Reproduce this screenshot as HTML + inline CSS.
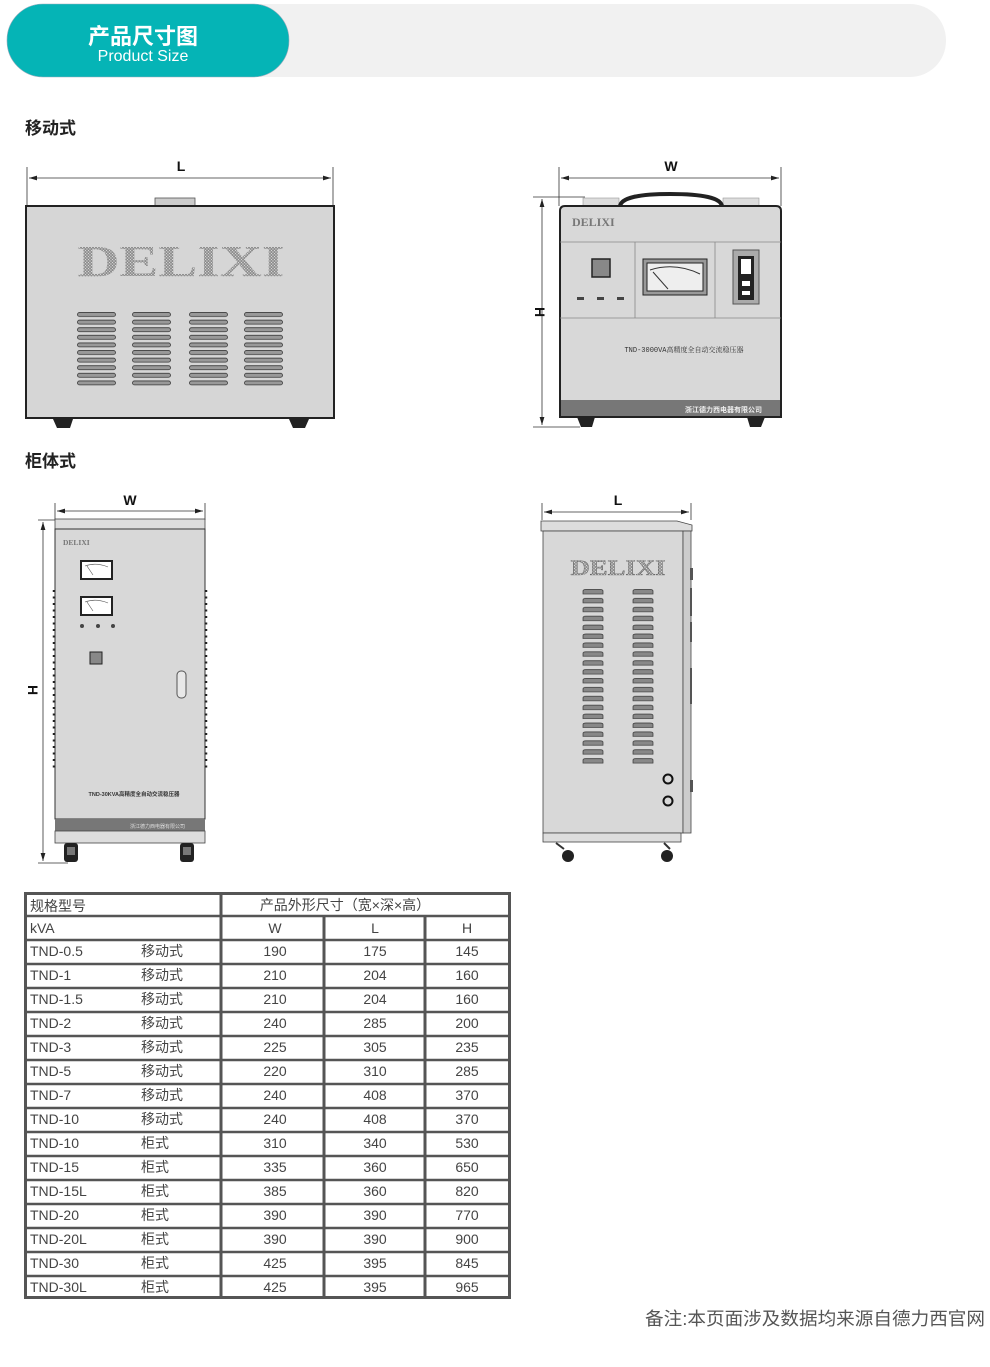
<!DOCTYPE html>
<html><head><meta charset="utf-8"><style>
body{margin:0;background:#fff;width:990px;height:1367px;overflow:hidden;font-family:"Liberation Sans","Noto Sans CJK SC",sans-serif}
svg{position:absolute;left:0;top:0}
</style></head><body>
<svg width="990" height="1367" viewBox="0 0 990 1367" font-family="Liberation Sans, Noto Sans CJK SC, sans-serif">
<defs>
<pattern id="dots" width="3" height="3" patternUnits="userSpaceOnUse"><circle cx="1.5" cy="1.5" r="1.1" fill="none" stroke="#666" stroke-width="0.6"/></pattern>
<pattern id="vent1" x="0" y="312" width="1000" height="7.6" patternUnits="userSpaceOnUse"><rect x="0.5" y="0.5" width="38" height="4" rx="2" fill="#999" stroke="#333" stroke-width="0.8"/></pattern>
<pattern id="vent2" x="0" y="589" width="1000" height="8.9" patternUnits="userSpaceOnUse"><path d="M1 5 L1 2 Q1 0.5 4 0.5 L18 0.5 Q21 0.5 21 2 L21 5 Z" fill="#888" stroke="#333" stroke-width="0.7"/></pattern>
<marker id="ar" viewBox="0 0 10 6" refX="10" refY="3" markerWidth="10" markerHeight="6" orient="auto-start-reverse"><path d="M0 0 L10 3 L0 6 Z" fill="#222"/></marker>
</defs>

<rect x="8" y="4" width="938" height="73" rx="36" fill="#f1f1f1"/>
<rect x="7" y="4" width="282" height="73" rx="36" fill="#05b4b6" stroke="#9ab" stroke-width="0.6"/>
<text x="143" y="44" text-anchor="middle" fill="#fff" font-size="22" font-weight="bold">产品尺寸图</text>
<text x="143" y="61" text-anchor="middle" fill="#fff" font-size="16">Product Size</text>

<text x="25" y="134" font-size="17" font-weight="bold" fill="#222">移动式</text>
<text x="25" y="467" font-size="17" font-weight="bold" fill="#222">柜体式</text>

<g stroke="#333" stroke-width="0.8" fill="none">
<line x1="27" y1="167" x2="27" y2="206"/><line x1="333" y1="167" x2="333" y2="206"/>
<line x1="29" y1="178" x2="331" y2="178" marker-start="url(#ar)" marker-end="url(#ar)"/>
<line x1="559" y1="167" x2="559" y2="206"/><line x1="781" y1="167" x2="781" y2="206"/>
<line x1="561" y1="178" x2="779" y2="178" marker-start="url(#ar)" marker-end="url(#ar)"/>
<line x1="533" y1="197" x2="585" y2="197"/><line x1="533" y1="427" x2="580" y2="427"/>
<line x1="542" y1="199" x2="542" y2="425" marker-start="url(#ar)" marker-end="url(#ar)"/>
<line x1="55" y1="503" x2="55" y2="520"/><line x1="205" y1="503" x2="205" y2="520"/>
<line x1="57" y1="511" x2="203" y2="511" marker-start="url(#ar)" marker-end="url(#ar)"/>
<line x1="38" y1="520" x2="58" y2="520"/><line x1="38" y1="863" x2="68" y2="863"/>
<line x1="43" y1="522" x2="43" y2="861" marker-start="url(#ar)" marker-end="url(#ar)"/>
<line x1="542" y1="503" x2="542" y2="520"/><line x1="691" y1="503" x2="691" y2="520"/>
<line x1="544" y1="512" x2="689" y2="512" marker-start="url(#ar)" marker-end="url(#ar)"/>
</g>
<g font-size="14" font-weight="bold" fill="#111" text-anchor="middle">
<text x="181" y="171">L</text><text x="671" y="171">W</text>
<text x="130" y="505">W</text><text x="618" y="505">L</text>
<text transform="translate(535,312) rotate(90)">H</text>
<text transform="translate(28,690) rotate(90)">H</text>
</g>

<!-- drawing 1 -->
<rect x="155" y="198" width="40" height="8" fill="#ccc" stroke="#555" stroke-width="0.8"/>
<rect x="26" y="206" width="308" height="212" fill="#d6d6d6" stroke="#222" stroke-width="2"/>
<text x="181" y="276" text-anchor="middle" font-family="Liberation Serif, serif" font-weight="bold" font-size="44" textLength="207" lengthAdjust="spacingAndGlyphs" fill="url(#dots)">DELIXI</text>
<g transform="translate(77,0)"><rect x="0" y="312" width="40" height="76" fill="url(#vent1)"/></g>
<g transform="translate(132,0)"><rect x="0" y="312" width="40" height="76" fill="url(#vent1)"/></g>
<g transform="translate(189,0)"><rect x="0" y="312" width="40" height="76" fill="url(#vent1)"/></g>
<g transform="translate(244,0)"><rect x="0" y="312" width="40" height="76" fill="url(#vent1)"/></g>
<path d="M53 419 L73 419 L70 428 L57 428 Z M289 419 L309 419 L305 428 L293 428 Z" fill="#222"/>

<!-- drawing 2 -->
<rect x="583" y="198" width="36" height="9" fill="#ddd" stroke="#999" stroke-width="0.6"/>
<rect x="723" y="198" width="36" height="9" fill="#ddd" stroke="#999" stroke-width="0.6"/>
<path d="M620 206 Q622 194 670 194 Q720 194 722 206" fill="none" stroke="#222" stroke-width="4"/>
<path d="M560 417 L560 211 Q560 206 565 206 L776 206 Q781 206 781 211 L781 417 Z" fill="#d8d8d8" stroke="#222" stroke-width="2"/>
<line x1="560" y1="242" x2="781" y2="242" stroke="#888" stroke-width="0.8"/>
<line x1="560" y1="318" x2="781" y2="318" stroke="#888" stroke-width="0.8"/>
<line x1="635" y1="242" x2="635" y2="318" stroke="#888" stroke-width="0.8"/>
<line x1="715" y1="242" x2="715" y2="318" stroke="#888" stroke-width="0.8"/>
<text x="572" y="226" font-family="Liberation Serif, serif" font-weight="bold" font-size="12" fill="#777">DELIXI</text>
<rect x="592" y="259" width="18" height="18" fill="#888" stroke="#222" stroke-width="1.5"/>
<rect x="577" y="297" width="7" height="3" fill="#444"/><rect x="597" y="297" width="7" height="3" fill="#444"/><rect x="617" y="297" width="7" height="3" fill="#444"/>
<rect x="643" y="259" width="64" height="36" fill="#999" stroke="#222" stroke-width="1"/>
<rect x="647" y="263" width="56" height="28" fill="#eee" stroke="#222" stroke-width="1"/>
<path d="M650 270 Q675 262 700 274" fill="none" stroke="#333"/><line x1="653" y1="272" x2="668" y2="289" stroke="#333"/>
<rect x="733" y="250" width="26" height="54" fill="#aaa" stroke="#555"/>
<rect x="738" y="256" width="16" height="44" fill="#222"/>
<rect x="741" y="259" width="10" height="15" fill="#fff"/><rect x="742" y="281" width="8" height="5" fill="#fff"/><rect x="742" y="291" width="8" height="4" fill="#fff"/>
<text x="684" y="352" text-anchor="middle" font-size="7" fill="#333" font-family="Liberation Mono, Noto Serif CJK SC, monospace">TND-3000VA高精度全自动交流稳压器</text>
<rect x="561" y="400" width="219" height="16" fill="#777"/>
<text x="762" y="412" text-anchor="end" font-size="7" fill="#eee" font-weight="bold">浙江德力西电器有限公司</text>
<path d="M577 417 L595 417 L592 427 L581 427 Z M747 417 L765 417 L761 427 L750 427 Z" fill="#222"/>

<!-- cabinet 1 -->
<rect x="55" y="519" width="150" height="10" fill="#ddd" stroke="#444" stroke-width="0.8"/>
<rect x="55" y="529" width="150" height="290" fill="#d8d8d8" stroke="#333" stroke-width="1"/>
<g stroke="#222" stroke-width="2.5" stroke-dasharray="2 4.5">
<line x1="54" y1="590" x2="54" y2="770"/><line x1="206" y1="590" x2="206" y2="770"/></g>
<text x="63" y="545" font-family="Liberation Serif, serif" font-weight="bold" font-size="7.5" fill="#777">DELIXI</text>
<rect x="81" y="561" width="31" height="18" fill="#fff" stroke="#222" stroke-width="2"/>
<path d="M85 566 Q96 562 108 567 M87 566 L93 575" fill="none" stroke="#555" stroke-width="0.6"/>
<rect x="81" y="597" width="31" height="18" fill="#fff" stroke="#222" stroke-width="2"/>
<path d="M85 602 Q96 598 108 603 M87 602 L93 611" fill="none" stroke="#555" stroke-width="0.6"/>
<circle cx="82" cy="626" r="2" fill="#444"/><circle cx="98" cy="626" r="2" fill="#444"/><circle cx="113" cy="626" r="2" fill="#444"/>
<rect x="90" y="652" width="12" height="12" fill="#888" stroke="#222"/>
<rect x="177" y="671" width="9" height="27" rx="4" fill="#e8e8e8" stroke="#555"/>
<text x="134" y="796" text-anchor="middle" font-size="5.5" fill="#333" font-weight="bold">TND-30KVA高精度全自动交流稳压器</text>
<rect x="55" y="819" width="150" height="12" fill="#777"/>
<text x="185" y="828" text-anchor="end" font-size="5" fill="#ddd">浙江德力西电器有限公司</text>
<rect x="55" y="831" width="150" height="12" fill="#ddd" stroke="#444" stroke-width="0.8"/>
<rect x="64" y="843" width="14" height="19" rx="3" fill="#222"/><rect x="180" y="843" width="14" height="19" rx="3" fill="#222"/>
<rect x="67" y="847" width="8" height="8" fill="#777"/><rect x="183" y="847" width="8" height="8" fill="#777"/>

<!-- cabinet 2 -->
<path d="M541 531 L541 521 L677 521 L692 525 L692 531 Z" fill="#ddd" stroke="#444" stroke-width="0.8"/>
<rect x="543" y="531" width="140" height="302" fill="#d8d8d8" stroke="#444" stroke-width="0.8"/>
<rect x="683" y="531" width="8" height="302" fill="#ccc" stroke="#444" stroke-width="0.8"/>
<g fill="#555"><rect x="690" y="568" width="3" height="12"/><rect x="690" y="588" width="2" height="28"/><rect x="690" y="622" width="2" height="20"/><rect x="690" y="668" width="2" height="36"/><rect x="690" y="780" width="3" height="12"/></g>
<text x="618" y="575" text-anchor="middle" font-family="Liberation Serif, serif" font-weight="bold" font-size="22" textLength="95" lengthAdjust="spacingAndGlyphs" fill="url(#dots)" stroke="#444" stroke-width="0.3">DELIXI</text>
<g transform="translate(582,0)"><rect x="0" y="589" width="22" height="175" fill="url(#vent2)"/></g>
<g transform="translate(632,0)"><rect x="0" y="589" width="22" height="175" fill="url(#vent2)"/></g>
<circle cx="668" cy="779" r="4.5" fill="none" stroke="#111" stroke-width="2"/>
<circle cx="668" cy="801" r="4.5" fill="none" stroke="#111" stroke-width="2"/>
<rect x="543" y="833" width="138" height="9" fill="#ddd" stroke="#444" stroke-width="0.8"/>
<path d="M556 843 L564 849 M664 843 L670 849" stroke="#333" stroke-width="2"/>
<circle cx="568" cy="856" r="6" fill="#222"/><circle cx="667" cy="856" r="6" fill="#222"/>

<!-- table -->
<g stroke="#555" stroke-width="3" fill="none">
<rect x="25.5" y="893.5" width="484" height="404"/>
<line x1="221" y1="893" x2="221" y2="1298"/>
<line x1="324" y1="916" x2="324" y2="1298"/>
<line x1="425" y1="916" x2="425" y2="1298"/>
</g>
<g stroke="#555" stroke-width="2.5">
<line x1="25" y1="916" x2="510" y2="916"/><line x1="25" y1="940" x2="510" y2="940"/><line x1="25" y1="964" x2="510" y2="964"/><line x1="25" y1="988" x2="510" y2="988"/><line x1="25" y1="1012" x2="510" y2="1012"/><line x1="25" y1="1036" x2="510" y2="1036"/><line x1="25" y1="1060" x2="510" y2="1060"/><line x1="25" y1="1084" x2="510" y2="1084"/><line x1="25" y1="1108" x2="510" y2="1108"/><line x1="25" y1="1132" x2="510" y2="1132"/><line x1="25" y1="1156" x2="510" y2="1156"/><line x1="25" y1="1180" x2="510" y2="1180"/><line x1="25" y1="1204" x2="510" y2="1204"/><line x1="25" y1="1228" x2="510" y2="1228"/><line x1="25" y1="1252" x2="510" y2="1252"/><line x1="25" y1="1276" x2="510" y2="1276"/>
</g>
<g font-size="14" fill="#444">
<text x="30" y="911">规格型号</text>
<text x="345" y="910" text-anchor="middle">产品外形尺寸（宽×深×高）</text>
<text x="30" y="933">kVA</text>
<text x="275" y="933" text-anchor="middle">W</text><text x="375" y="933" text-anchor="middle">L</text><text x="467" y="933" text-anchor="middle">H</text>
</g>
<g font-size="14" fill="#444">
<g transform="translate(0,956)"><text x="30">TND-0.5</text><text x="141">移动式</text><text x="275" text-anchor="middle">190</text><text x="375" text-anchor="middle">175</text><text x="467" text-anchor="middle">145</text></g>
<g transform="translate(0,980)"><text x="30">TND-1</text><text x="141">移动式</text><text x="275" text-anchor="middle">210</text><text x="375" text-anchor="middle">204</text><text x="467" text-anchor="middle">160</text></g>
<g transform="translate(0,1004)"><text x="30">TND-1.5</text><text x="141">移动式</text><text x="275" text-anchor="middle">210</text><text x="375" text-anchor="middle">204</text><text x="467" text-anchor="middle">160</text></g>
<g transform="translate(0,1028)"><text x="30">TND-2</text><text x="141">移动式</text><text x="275" text-anchor="middle">240</text><text x="375" text-anchor="middle">285</text><text x="467" text-anchor="middle">200</text></g>
<g transform="translate(0,1052)"><text x="30">TND-3</text><text x="141">移动式</text><text x="275" text-anchor="middle">225</text><text x="375" text-anchor="middle">305</text><text x="467" text-anchor="middle">235</text></g>
<g transform="translate(0,1076)"><text x="30">TND-5</text><text x="141">移动式</text><text x="275" text-anchor="middle">220</text><text x="375" text-anchor="middle">310</text><text x="467" text-anchor="middle">285</text></g>
<g transform="translate(0,1100)"><text x="30">TND-7</text><text x="141">移动式</text><text x="275" text-anchor="middle">240</text><text x="375" text-anchor="middle">408</text><text x="467" text-anchor="middle">370</text></g>
<g transform="translate(0,1124)"><text x="30">TND-10</text><text x="141">移动式</text><text x="275" text-anchor="middle">240</text><text x="375" text-anchor="middle">408</text><text x="467" text-anchor="middle">370</text></g>
<g transform="translate(0,1148)"><text x="30">TND-10</text><text x="141">柜式</text><text x="275" text-anchor="middle">310</text><text x="375" text-anchor="middle">340</text><text x="467" text-anchor="middle">530</text></g>
<g transform="translate(0,1172)"><text x="30">TND-15</text><text x="141">柜式</text><text x="275" text-anchor="middle">335</text><text x="375" text-anchor="middle">360</text><text x="467" text-anchor="middle">650</text></g>
<g transform="translate(0,1196)"><text x="30">TND-15L</text><text x="141">柜式</text><text x="275" text-anchor="middle">385</text><text x="375" text-anchor="middle">360</text><text x="467" text-anchor="middle">820</text></g>
<g transform="translate(0,1220)"><text x="30">TND-20</text><text x="141">柜式</text><text x="275" text-anchor="middle">390</text><text x="375" text-anchor="middle">390</text><text x="467" text-anchor="middle">770</text></g>
<g transform="translate(0,1244)"><text x="30">TND-20L</text><text x="141">柜式</text><text x="275" text-anchor="middle">390</text><text x="375" text-anchor="middle">390</text><text x="467" text-anchor="middle">900</text></g>
<g transform="translate(0,1268)"><text x="30">TND-30</text><text x="141">柜式</text><text x="275" text-anchor="middle">425</text><text x="375" text-anchor="middle">395</text><text x="467" text-anchor="middle">845</text></g>
<g transform="translate(0,1292)"><text x="30">TND-30L</text><text x="141">柜式</text><text x="275" text-anchor="middle">425</text><text x="375" text-anchor="middle">395</text><text x="467" text-anchor="middle">965</text></g>
</g>
<text x="985" y="1325" text-anchor="end" font-size="18" fill="#555" textLength="340" lengthAdjust="spacingAndGlyphs">备注:本页面涉及数据均来源自德力西官网</text>
</svg>
</body></html>
